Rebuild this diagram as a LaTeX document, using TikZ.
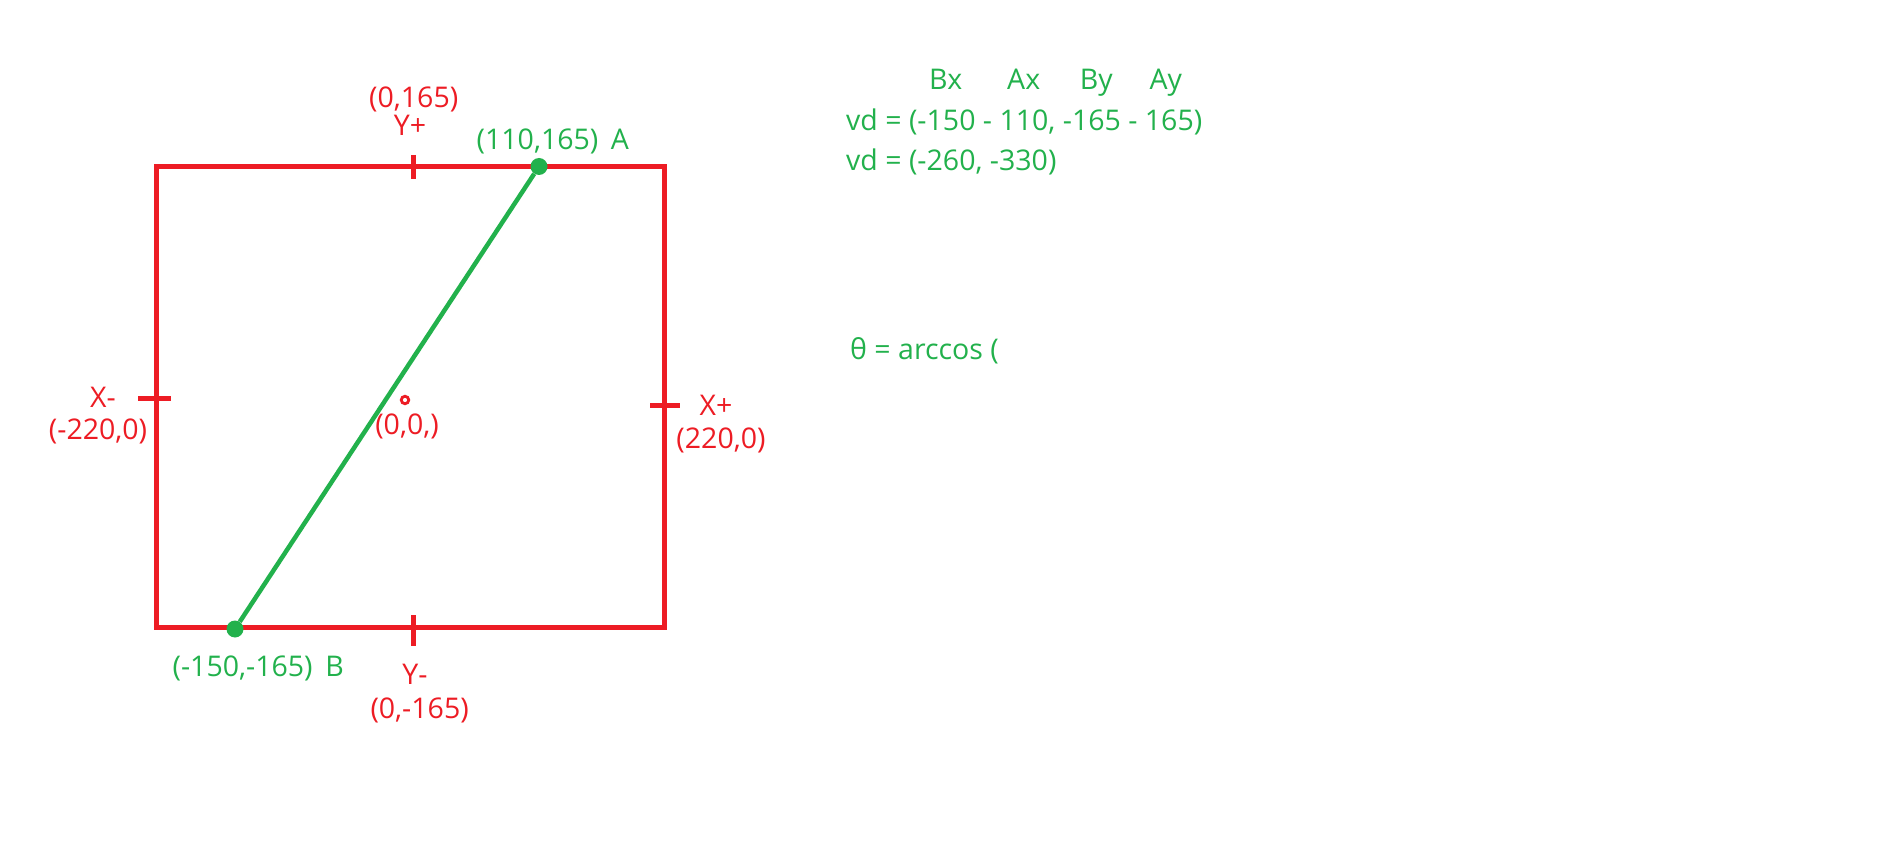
\documentclass[tikz,border=0pt]{standalone}
\usepackage{fontspec}
\setmainfont{Open Sans}
\definecolor{pred}{RGB}{237,28,36}
\definecolor{pgreen}{RGB}{34,177,76}
\begin{document}
\begin{tikzpicture}[x=1pt,y=-1pt,
  redtxt/.style={text=pred,font=\fontsize{28.5}{31}\selectfont,inner sep=0pt,anchor=base},
  greentxt/.style={text=pgreen,font=\fontsize{28.5}{31}\selectfont,inner sep=0pt,anchor=base},
  box/.style={draw=pred,line width=5pt},
  tick/.style={draw=pred,line width=5pt},
  gdot/.style={circle,fill=pgreen,inner sep=0pt,minimum size=17pt},
  gline/.style={draw=pgreen,line width=4.5pt}]
\useasboundingbox (0,0) rectangle (1882,858);
\fill[white] (0,0) rectangle (1882,858);
% frame
\draw[box] (156.5,166.5) rectangle (664.5,627.5);
% ticks
\coordinate (ypt1) at (413,155); \coordinate (ypt2) at (413,179);
\coordinate (ymt1) at (413,615); \coordinate (ymt2) at (413,646);
\coordinate (xmt1) at (138,398.5); \coordinate (xmt2) at (171,398.5);
\coordinate (xpt1) at (650,405.5); \coordinate (xpt2) at (680,405.5);
\draw[tick] (ypt1) -- (ypt2);
\draw[tick] (ymt1) -- (ymt2);
\draw[tick] (xmt1) -- (xmt2);
\draw[tick] (xpt1) -- (xpt2);
% origin
\node[circle,draw=pred,line width=2.8pt,inner sep=0pt,minimum size=7.5pt] (origin) at (405,400) {};
% segment
\node[gdot] (A) at (539,166.5) {};
\node[gdot] (B) at (235,629) {};
\draw[gline] (A) -- (B);
% red labels
\node[redtxt] (yplab) at (413.7,107.8) {(0,165)};
\node[redtxt] (ypname) at (410,135.7) {Y+};
\node[redtxt] (xmname) at (103,407.8) {X-};
\node[redtxt] (xmlab) at (98,439) {(-220,0)};
\node[redtxt] (olab) at (407,434) {(0,0,)};
\node[redtxt] (xpname) at (716,416) {X+};
\node[redtxt] (xplab) at (721,448.8) {(220,0)};
\node[redtxt] (ymname) at (415,684) {Y-};
\node[redtxt] (ymlab) at (419.6,718) {(0,-165)};
% green labels
\node[greentxt] (alab) at (537.5,149.4) {(110,165)};
\node[greentxt] (aname) at (620,149.4) {A};
\node[greentxt] (blab) at (242.6,676.5) {(-150,-165)};
\node[greentxt] (bname) at (334.5,676.5) {B};
\node[greentxt] (bx) at (945.7,89.5) {Bx};
\node[greentxt] (ax) at (1023.7,89.5) {Ax};
\node[greentxt] (by) at (1096.2,89.5) {By};
\node[greentxt] (ay) at (1165.8,89.5) {Ay};
\node[greentxt,anchor=base west] (vd1) at (846,131) {vd = (-150 - 110, -165 - 165)};
\node[greentxt,anchor=base west] (vd2) at (846,170.5) {vd = (-260, -330)};
\node[greentxt,anchor=base west] (theta) at (850,360) {θ = arccos (};
\end{tikzpicture}
\end{document}
